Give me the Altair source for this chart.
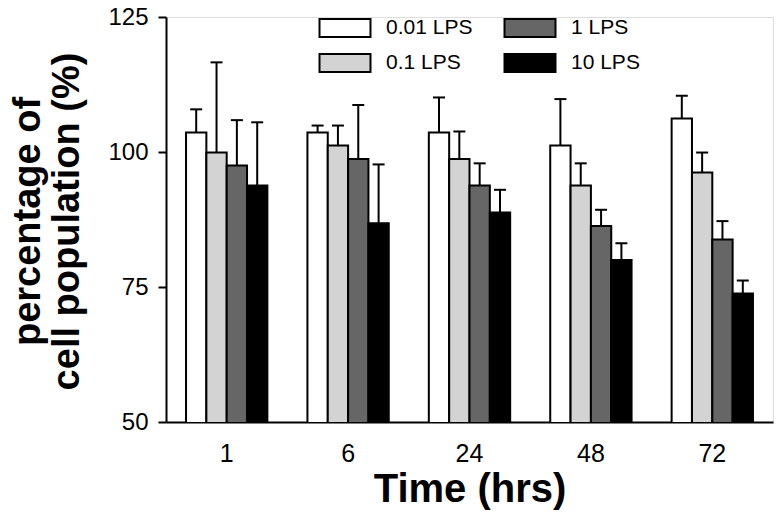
import altair as alt
import pandas as pd

times = ["1", "6", "24", "48", "72"]
groups = ["0.01 LPS", "0.1 LPS", "1 LPS", "10 LPS"]
colors = ["#ffffff", "#d3d3d3", "#666666", "#000000"]

v001 = [103.6, 103.6, 103.6, 101.2, 106.2]
v01 = [99.9, 101.2, 98.7, 93.8, 96.2]
v1 = [97.5, 98.7, 93.8, 86.3, 83.8]
v10 = [93.8, 86.8, 88.8, 80.0, 73.8]

e001 = [4.3, 1.3, 6.5, 8.6, 4.2]
e01 = [16.7, 3.7, 5.1, 4.1, 3.7]
e1 = [8.4, 10.0, 4.1, 3.0, 3.4]
e10 = [11.7, 10.9, 4.2, 3.1, 2.4]

values = [v001, v01, v1, v10]
errors = [e001, e01, e1, e10]

rows = []
for g, vals, errs in zip(groups, values, errors):
    for t, v, e in zip(times, vals, errs):
        rows.append({"time": t, "group": g, "value": v, "upper": v + e})
df = pd.DataFrame(rows)

FONT = "Liberation Sans"

base = alt.Chart(df).encode(
    x=alt.X(
        "time:N",
        sort=times,
        scale=alt.Scale(paddingInner=0.33, paddingOuter=0.165),
        axis=alt.Axis(
            title="Time (hrs)",
            labelAngle=0,
            ticks=False,
            labelFontSize=25,
            labelPadding=19,
            labelColor="black",
            domainColor="black",
            domainWidth=2,
            titleFontSize=40,
            titleFontWeight="bold",
            titleColor="black",
            titlePadding=3,
        ),
    ),
    xOffset=alt.XOffset("group:N", sort=groups, scale=alt.Scale(paddingInner=0, paddingOuter=0)),
)

yaxis = alt.Axis(
    values=[50, 75, 100, 125],
    grid=False,
    tickSize=8,
    tickWidth=2,
    tickColor="black",
    domainColor="black",
    domainWidth=2,
    labelFontSize=24,
    labelPadding=10,
    labelColor="black",
    title=["percentage of", "cell population (%)"],
    titleFontSize=38,
    titleFontWeight="bold",
    titleColor="black",
    titleLineHeight=39,
    titleX=-138,
    titleY=204,
    titleAlign="center",
    titleBaseline="middle",
    titleAngle=270,
)

bars = base.mark_bar(stroke="black", strokeWidth=2, clip=True).encode(
    y=alt.Y("value:Q", scale=alt.Scale(domain=[50, 125], zero=False, nice=False), axis=yaxis),
    color=alt.Color(
        "group:N",
        scale=alt.Scale(domain=groups, range=colors),
        legend=alt.Legend(
            title=None,
            orient="none",
            legendX=165,
            legendY=-3,
            columns=2,
            symbolType="M-2,-0.706L2,-0.706L2,0.706L-2,0.706Z",
            symbolSize=650,
            symbolStrokeColor="black",
            symbolStrokeWidth=2,
            symbolOpacity=1,
            labelFontSize=21,
            labelColor="black",
            labelOffset=27,
            columnPadding=27,
            rowPadding=8,
            labelFont=FONT,
        ),
    ),
)

rules = base.mark_rule(color="black", strokeWidth=2).encode(
    y=alt.Y("value:Q"),
    y2=alt.Y2("upper:Q"),
)

caps = base.mark_tick(color="black", thickness=2, size=12, opacity=1).encode(
    y=alt.Y("upper:Q"),
)

chart = (
    alt.layer(rules, caps, bars)
    .properties(
        width=607,
        height=405,
        autosize=alt.AutoSizeParams(type="none"),
        padding={"left": 158, "top": 9, "right": 3, "bottom": 88},
    )
    .configure_view(stroke=None)
    .configure(font=FONT)
)

chart.save("out.html", embed_options={"renderer": "svg", "actions": False})
